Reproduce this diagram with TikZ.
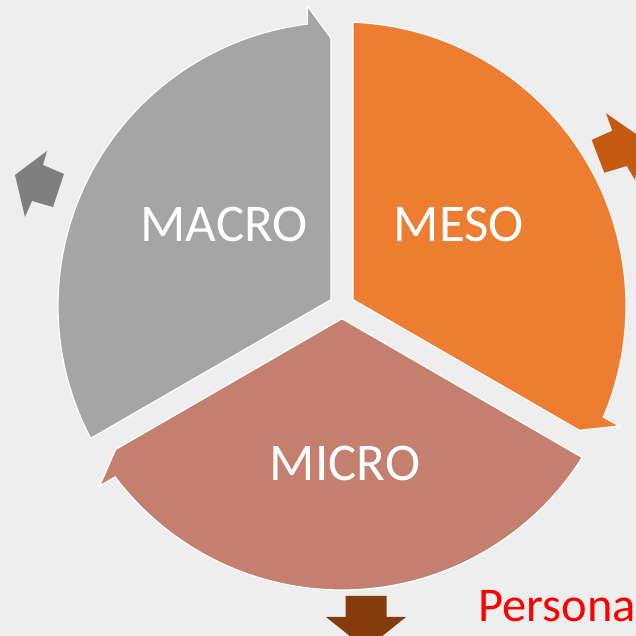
\documentclass[tikz,border=0pt]{standalone}
\usepackage{fontspec}
\setmainfont{Carlito}
\definecolor{bg}{HTML}{EEEEEE}
\definecolor{cgray}{HTML}{A5A5A5}
\definecolor{corange}{HTML}{ED7D31}
\definecolor{csalmon}{HTML}{C47F6E}
\definecolor{agray}{HTML}{7F7F7F}
\definecolor{aorange}{HTML}{C55A11}
\definecolor{abrown}{HTML}{843C0C}
\begin{document}
\begin{tikzpicture}[x=1pt,y=1pt,
  seg/.style={draw=white,line width=1.2pt,line join=miter},
  lab/.style={text=white,font=\fontsize{53}{60}\selectfont,anchor=base,inner sep=0pt}]
\useasboundingbox (0,0) rectangle (636,636);
\clip (0,0) rectangle (636,636);
\fill[bg] (0,0) rectangle (636,636);
\begin{scope}[shift={(342,330)}]
  % MACRO segment (gray)
  \path[seg,fill=cgray] (150:12.7) -- (92.36:268) -- (96.6:302) -- (97:284)
     arc[start angle=97,end angle=207.77,radius=284] -- cycle;
  % MESO segment (orange)
  \path[seg,fill=corange] (30:12.7) -- (-27.64:268) -- (-23.4:302) -- (-23:284)
     arc[start angle=-23,end angle=87.77,radius=284] -- cycle;
  % MICRO segment (salmon)
  \path[seg,fill=csalmon] (270:12.7) -- (212.36:268) -- (216.6:302) -- (217:284)
     arc[start angle=217,end angle=327.77,radius=284] -- cycle;
\end{scope}
% outward arrows
\fill[agray] (15,461) -- (47,485) -- (43,471) -- (64,462) -- (53,429) -- (32,435) -- (25,419) -- cycle;
\fill[aorange] (641.8,498) -- (606,522.7) -- (612.3,505.3) -- (591.7,496) -- (604.3,463.3) -- (626.7,470) -- (635,456) -- cycle;
\fill[abrown] (366.2,-13) -- (406,19) -- (386.7,19) -- (386.7,40) -- (345.7,40) -- (345.7,19) -- (326,19) -- cycle;
% labels
\node[lab] (macro) at (224,394.3) {MACRO};
\node[lab] (meso) at (459,394.3) {MESO};
\node[lab] (micro) at (345,155) {MICRO};
\node[anchor=base west,inner sep=0pt,text=red,font=\fontsize{48.5}{54}\selectfont] (persona) at (478,14) {Persona};
\end{tikzpicture}
\end{document}
